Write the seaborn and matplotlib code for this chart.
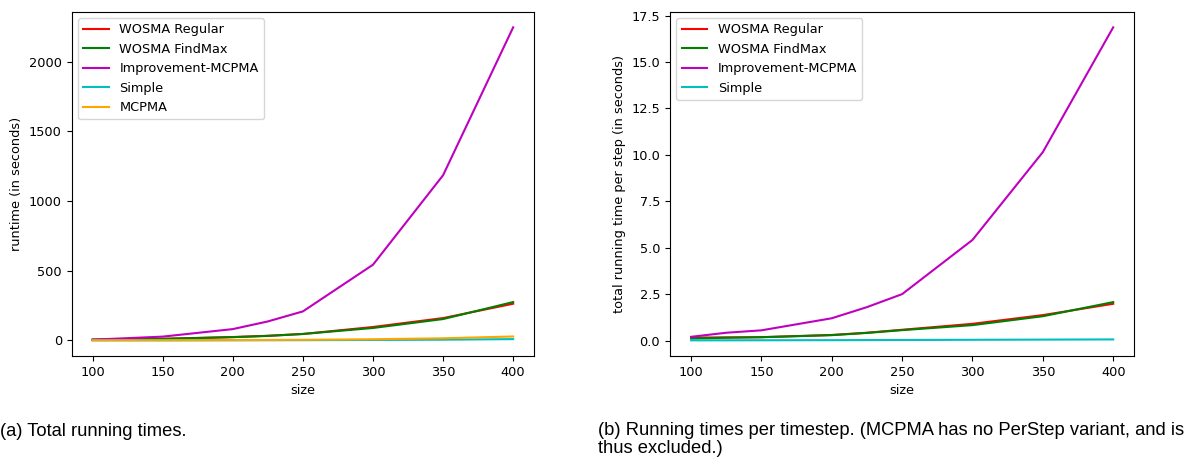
import matplotlib
matplotlib.use("Agg")
import matplotlib.pyplot as plt
import seaborn as sns
import pandas as pd

sizes = [100, 125, 150, 200, 225, 250, 300, 350, 400]

# (a) total running times (seconds)
total_wosma_regular = [5, 8, 11, 24, 33, 46, 96, 160, 263]
total_wosma_findmax = [5, 8, 11, 23, 32, 46, 89, 153, 275]
total_improvement = [5, 16, 27, 81, 136, 208, 543, 1185, 2246]
total_simple = [0.2, 0.3, 0.4, 0.8, 1.1, 1.5, 3, 5, 9]
total_mcpma = [0.5, 0.7, 1, 2, 3, 4, 8, 15, 28]

# (b) running time per step (seconds)
step_wosma_regular = [0.16, 0.17, 0.18, 0.30, 0.42, 0.58, 0.90, 1.37, 1.98]
step_wosma_findmax = [0.11, 0.15, 0.18, 0.29, 0.41, 0.56, 0.83, 1.31, 2.07]
step_improvement = [0.20, 0.42, 0.55, 1.20, 1.80, 2.50, 5.42, 10.15, 16.87]
step_simple = [0.01, 0.012, 0.015, 0.02, 0.025, 0.03, 0.04, 0.05, 0.06]

names_a = ["WOSMA Regular", "WOSMA FindMax", "Improvement-MCPMA", "Simple", "MCPMA"]
names_b = ["WOSMA Regular", "WOSMA FindMax", "Improvement-MCPMA", "Simple"]
colors = {"WOSMA Regular": "r", "WOSMA FindMax": "g", "Improvement-MCPMA": "m",
          "Simple": "c", "MCPMA": "orange"}

FS = 9.3


def long_df(series, names):
    rows = []
    for name, vals in zip(names, series):
        for s, v in zip(sizes, vals):
            rows.append({"size": s, "value": v, "algo": name})
    return pd.DataFrame(rows)


df_a = long_df([total_wosma_regular, total_wosma_findmax, total_improvement,
                total_simple, total_mcpma], names_a)
df_b = long_df([step_wosma_regular, step_wosma_findmax, step_improvement,
                step_simple], names_b)

fig = plt.figure(figsize=(11.94, 4.57), dpi=100)
ax1 = fig.add_axes([0.0600, 0.221, 0.3874, 0.7534])
ax2 = fig.add_axes([0.5611, 0.221, 0.3889, 0.7534])

sns.lineplot(data=df_a, x="size", y="value", hue="algo", hue_order=names_a,
             palette=colors, ax=ax1, linewidth=1.5)
sns.lineplot(data=df_b, x="size", y="value", hue="algo", hue_order=names_b,
             palette=colors, ax=ax2, linewidth=1.5)

for ax, ylab in [(ax1, "runtime (in seconds)"),
                 (ax2, "total running time per step (in seconds)")]:
    ax.set_xlabel("size", fontsize=FS)
    ax.set_ylabel(ylab, fontsize=FS)
    ax.set_xticks([100, 150, 200, 250, 300, 350, 400])
    ax.tick_params(labelsize=FS)
    h, l = ax.get_legend_handles_labels()
    ax.legend(h, l, loc="upper left", fontsize=FS)

ax1.set_yticks([0, 500, 1000, 1500, 2000])
ax2.set_yticks([0.0, 2.5, 5.0, 7.5, 10.0, 12.5, 15.0, 17.5])
ax2.yaxis.set_major_formatter(matplotlib.ticker.FormatStrFormatter("%.1f"))

fig.text(0.0, 1 - 436.5 / 457, "(a) Total running times.", family="Liberation Sans",
         fontsize=13.2, va="baseline", ha="left")
fig.text(598 / 1194, 1 - 422 / 457,
         "(b) Running times per timestep. (MCPMA has no PerStep variant, and is\nthus excluded.)",
         family="Liberation Sans", fontsize=13.2, va="top", ha="left",
         linespacing=1.04)

fig.savefig("out.png", dpi=100)
